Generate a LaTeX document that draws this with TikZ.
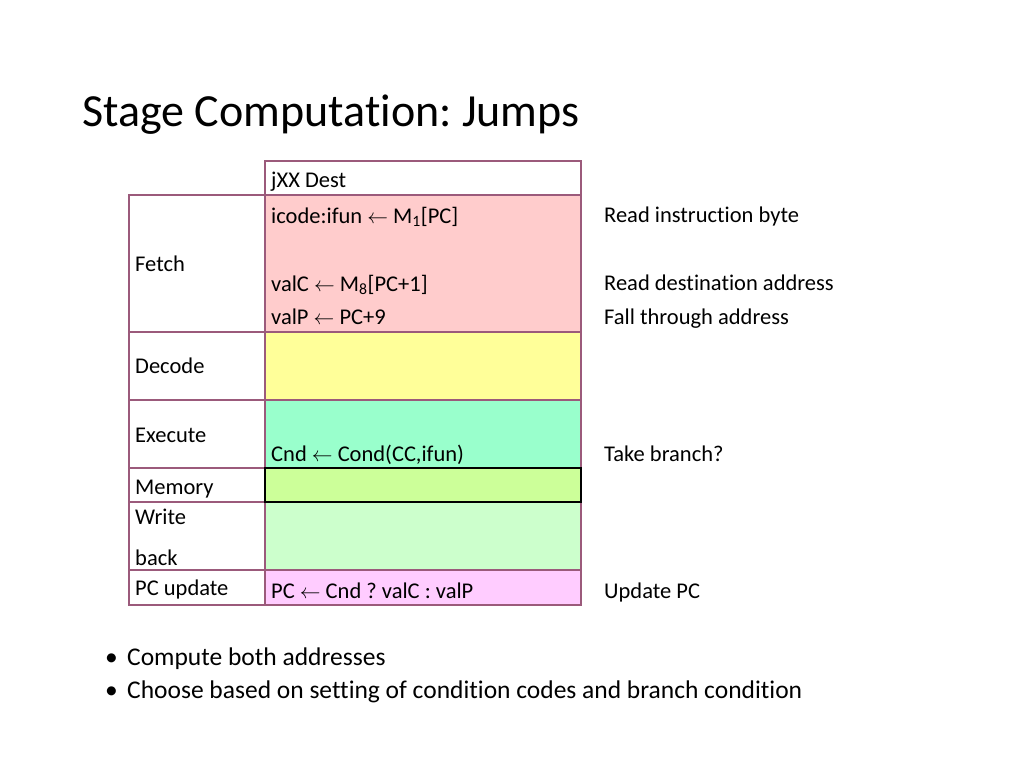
\documentclass[tikz,border=0pt]{standalone}
\usepackage{fontspec}
\setmainfont[Ligatures={NoCommon}]{Carlito}
\frenchspacing
\definecolor{frame}{HTML}{9B5A7B}
\definecolor{fetchc}{HTML}{FFCCCC}
\definecolor{decodec}{HTML}{FFFF99}
\definecolor{execc}{HTML}{99FFCC}
\definecolor{memc}{HTML}{CCFF99}
\definecolor{wbc}{HTML}{CCFFCC}
\definecolor{pcc}{HTML}{FFCCFF}
\newcommand{\larr}{\ensuremath{\leftarrow}}
\begin{document}
\begin{tikzpicture}[x=1pt,y=-1pt,
  cellbox/.style={draw=frame,line width=2pt},
  txt/.style={anchor=base west,inner sep=0pt,font=\fontsize{22.5}{27}\selectfont},
  bultxt/.style={anchor=base west,inner sep=0pt,font=\fontsize{25.5}{30}\selectfont},
  titletxt/.style={anchor=base west,inner sep=0pt,font=\fontsize{46}{54}\selectfont}]
\useasboundingbox[fill=white] (0,0) rectangle (1024,767);
% fills
\fill[white] (265,161) rectangle (581,195);
\fill[fetchc] (265,195) rectangle (581,332);
\fill[decodec] (265,332) rectangle (581,400);
\fill[execc] (265,400) rectangle (581,468);
\fill[memc] (265,468) rectangle (581,502);
\fill[wbc] (265,502) rectangle (581,570);
\fill[pcc] (265,570) rectangle (581,605);
% borders
\draw[cellbox] (265,161) rectangle (581,195);
\draw[cellbox] (129,195) rectangle (265,332);
\draw[cellbox] (265,195) rectangle (581,332);
\draw[cellbox] (129,332) rectangle (265,400);
\draw[cellbox] (265,332) rectangle (581,400);
\draw[cellbox] (129,400) rectangle (265,468);
\draw[cellbox] (265,400) rectangle (581,468);
\draw[cellbox] (129,468) rectangle (265,502);
\draw[cellbox] (129,502) rectangle (265,570);
\draw[cellbox] (265,502) rectangle (581,570);
\draw[cellbox] (129,570) rectangle (265,605);
\draw[cellbox] (265,570) rectangle (581,605);
\draw[black,line width=2pt] (265,468) rectangle (581,502);
% title
\node[titletxt] (title) at (82,127) {Stage Computation: Jumps};
% stage labels
\node[txt] (lfetch) at (135,271) {Fetch};
\node[txt] (ldecode) at (135,373.5) {Decode};
\node[txt] (lexec) at (135,442) {Execute};
\node[txt] (lmem) at (135,494) {Memory};
\node[txt] (lwrite) at (135,524) {Write};
\node[txt] (lback) at (135,565) {back};
\node[txt] (lpc) at (135,595.5) {PC update};
% computations
\node[txt] (cjxx) at (271,187.5) {jXX Dest};
\node[txt] (cicode) at (271,223) {icode:ifun \larr\ M\textsubscript{1}[PC]};
\node[txt] (cvalc) at (271,291) {valC \larr\ M\textsubscript{8}[PC+1]};
\node[txt] (cvalp) at (271,324.5) {valP \larr\ PC+9};
\node[txt] (ccnd) at (271,461) {Cnd \larr\ Cond(CC,ifun)};
\node[txt] (cpc) at (271,598) {PC \larr\ Cnd ? valC : valP};
% notes
\node[txt] (nicode) at (604,222.5) {Read instruction byte};
\node[txt] (nvalc) at (604,290.5) {Read destination address};
\node[txt] (nvalp) at (604,324.5) {Fall through address};
\node[txt] (ncnd) at (604,461) {Take branch?};
\node[txt] (npc) at (604,598) {Update PC};
% bullets
\node[bultxt] (b1dot) at (105,665.5) {•};
\node[bultxt] (b1) at (127,665.5) {Compute both addresses};
\node[bultxt] (b2dot) at (105,698.5) {•};
\node[bultxt] (b2) at (127,698.5) {Choose based on setting of condition codes and branch condition};
\end{tikzpicture}
\end{document}
